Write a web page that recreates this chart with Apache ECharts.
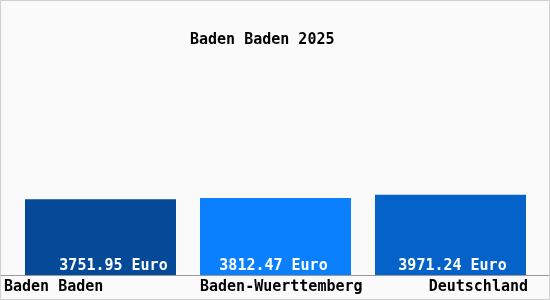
<!DOCTYPE html>
<html>
<head>
<meta charset="utf-8">
<script src="https://cdn.jsdelivr.net/npm/echarts@6/dist/echarts.min.js"></script>
<style>
  html, body { margin: 0; padding: 0; background: #fafafa; }
  #chart { width: 550px; height: 300px; }
</style>
</head>
<body>
<div id="chart"></div>
<script>
// ---- data ----
const titleText = 'Baden Baden 2025';
const categories = ['Baden Baden', 'Baden-Wuerttemberg', 'Deutschland'];
const values = [3751.95, 3812.47, 3971.24];
const unit = 'Euro';

// ---- styles ----
const barColors = ['#044a98', '#0a80ff', '#0462c8'];
const FONT = '"DejaVu Sans Mono", monospace';
const labelOffsets = [[13, 0], [-2, 0], [2, 0]];
const catRich = {
  c0: { width: 193, align: 'left' },
  c1: { width: 151, align: 'left' },
  c2: { width: 155, align: 'right' }
};
Object.values(catRich).forEach(s => { s.fontFamily = FONT; s.fontSize = 15; s.fontWeight = 'bold'; s.color = '#000'; });

const chart = echarts.init(document.getElementById('chart'), null, { renderer: 'canvas' });
chart.setOption({
  backgroundColor: '#fafafa',
  animation: false,
  title: {
    text: titleText,
    left: 185,
    top: 28,
    textStyle: { fontFamily: FONT, fontSize: 15, fontWeight: 'bold', color: '#000' }
  },
  grid: { left: 13, width: 525, top: 75, bottom: 25, containLabel: false },
  xAxis: {
    type: 'category',
    data: categories,
    axisLine: { show: false },
    axisTick: { show: false },
    axisLabel: {
      margin: 5,
      interval: 0,
      formatter: (v, i) => '{c' + i + '|' + v + '}',
      rich: catRich
    }
  },
  yAxis: {
    type: 'value',
    min: 0,
    max: 9900,
    show: false,
    splitLine: { show: false }
  },
  graphic: [
    { type: 'line', shape: { x1: 0, y1: 275.5, x2: 550, y2: 275.5 }, style: { stroke: '#999', lineWidth: 1 }, z: 10 },
    { type: 'rect', shape: { x: 0.5, y: 0.5, width: 549, height: 299 }, style: { fill: 'none', stroke: '#d0d0d0', lineWidth: 1 }, z: 10 }
  ],
  series: [{
    type: 'bar',
    barWidth: 151,
    data: values.map((v, i) => ({
      value: v,
      itemStyle: { color: barColors[i] },
      label: { offset: labelOffsets[i] }
    })),
    label: {
      show: true,
      position: 'insideBottom',
      distance: 1,
      color: '#fff',
      fontFamily: FONT,
      fontSize: 15,
      fontWeight: 'bold',
      formatter: p => p.value.toFixed(2) + ' ' + unit
    }
  }]
});
</script>
</body>
</html>
